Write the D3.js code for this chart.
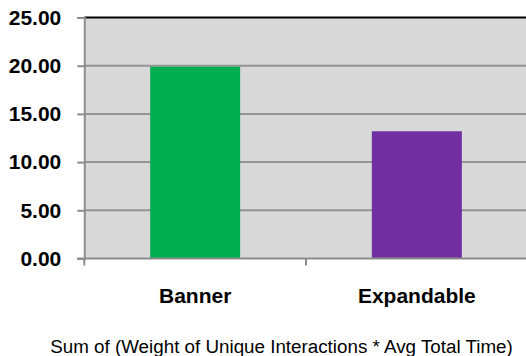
<!DOCTYPE html>
<html>
<head>
<meta charset="utf-8">
<script src="https://cdn.jsdelivr.net/npm/d3@7"></script>
<style>
  html, body { margin: 0; padding: 0; background: #fff; }
  svg { display: block; }
</style>
</head>
<body>
<svg id="chart" width="526" height="356"></svg>
<script>
// Chart data
const categories = ["Banner", "Expandable"];
const values = [19.9, 13.2];
const colors = ["#00b050", "#7030a0"];
const yTicks = [0, 5, 10, 15, 20, 25];
const yTickLabels = ["0.00", "5.00", "10.00", "15.00", "20.00", "25.00"];
const axisTitle = "Sum of (Weight of Unique Interactions * Avg Total Time)";

const svg = d3.select("#chart");
const plotLeft = 84.3, plotRight = 527.7, plotTop = 17.5, plotBottom = 258.5;
const font = "'Liberation Sans', Arial, Helvetica, sans-serif";

const x = d3.scaleBand().domain(categories).range([plotLeft, plotRight])
  .paddingInner(0.594).paddingOuter(0.297);
const xCat = d3.scaleBand().domain(categories).range([plotLeft, plotRight]).padding(0);
const y = d3.scaleLinear().domain([0, 25]).range([plotBottom, plotTop]);

// Plot area background
svg.append("rect")
  .attr("x", plotLeft).attr("y", plotTop)
  .attr("width", plotRight - plotLeft).attr("height", plotBottom - plotTop)
  .attr("fill", "#d9d9d9");

// Horizontal gridlines
svg.append("g").selectAll("line")
  .data(yTicks.filter(d => d > 0 && d < 25))
  .join("line")
  .attr("x1", plotLeft).attr("x2", plotRight)
  .attr("y1", d => y(d)).attr("y2", d => y(d))
  .attr("stroke", "#939393").attr("stroke-width", 2);

// Top border of the plot area
svg.append("line")
  .attr("x1", plotLeft).attr("x2", plotRight)
  .attr("y1", y(25)).attr("y2", y(25))
  .attr("stroke", "#000").attr("stroke-width", 2);

// Bars
svg.append("g").selectAll("rect")
  .data(categories)
  .join("rect")
  .attr("x", d => x(d))
  .attr("width", x.bandwidth())
  .attr("y", (d, i) => y(values[i]))
  .attr("height", (d, i) => y(0) - y(values[i]))
  .attr("fill", (d, i) => colors[i]);

// Y axis
const yAxis = d3.axisLeft(y).tickValues(yTicks)
  .tickFormat((d, i) => yTickLabels[i]).tickSize(7).tickPadding(16);
const gy = svg.append("g").attr("transform", `translate(${plotLeft},0)`).call(yAxis);
gy.select(".domain").attr("stroke", "#8c8c8c").attr("stroke-width", 2);
gy.selectAll(".tick line").attr("stroke", "#8c8c8c").attr("stroke-width", 2);
gy.selectAll(".tick text")
  .attr("font-family", font).attr("font-size", 21).attr("font-weight", "bold")
  .attr("fill", "#000");

// X axis baseline and category boundary ticks
svg.append("line")
  .attr("x1", plotLeft - 7).attr("x2", plotRight)
  .attr("y1", y(0)).attr("y2", y(0))
  .attr("stroke", "#8c8c8c").attr("stroke-width", 2);
svg.append("g").selectAll("line")
  .data(categories)
  .join("line")
  .attr("x1", d => xCat(d)).attr("x2", d => xCat(d))
  .attr("y1", y(0)).attr("y2", y(0) + 7)
  .attr("stroke", "#8c8c8c").attr("stroke-width", 2);

// Category labels
svg.append("g").selectAll("text")
  .data(categories)
  .join("text")
  .attr("x", d => x(d) + x.bandwidth() / 2)
  .attr("y", 303)
  .attr("text-anchor", "middle")
  .attr("font-family", font).attr("font-size", 21).attr("font-weight", "bold")
  .attr("fill", "#000")
  .text(d => d);

// Axis title
svg.append("text")
  .attr("x", 281.5).attr("y", 352.5)
  .attr("text-anchor", "middle")
  .attr("font-family", font).attr("font-size", 18.8)
  .attr("fill", "#000")
  .text(axisTitle);
</script>
</body>
</html>
